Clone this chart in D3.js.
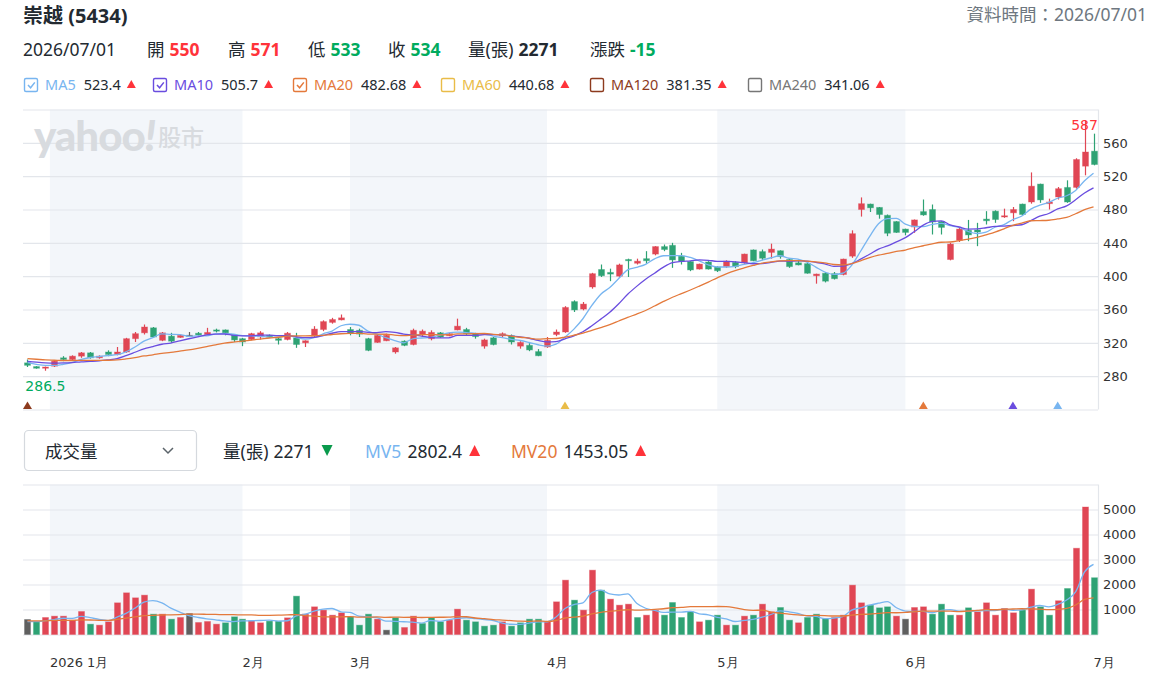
<!DOCTYPE html>
<html>
<head>
<meta charset="utf-8">
<script src="https://cdn.jsdelivr.net/npm/d3@7"></script>
<style>
  body { margin: 0; background: #fff; }
  svg { display: block; font-family: "Noto Sans", "Noto Sans CJK TC", sans-serif; }
</style>
</head>
<body>
<svg id="chart" width="1162" height="682"></svg>
<script>
// daily candles, 2025/12/29 .. 2026/07/01
const opens = [
  296, 291.5, 289.5, 292, 302, 300, 304, 308, 302, 309,
  306, 309, 325, 332, 338, 323, 328, 326.5, 329, 331.5,
  330, 335.5, 335.5, 329.5, 325, 324, 327, 329, 325, 324,
  326, 320, 328, 336, 344.5, 347.5, 336, 335, 325, 320.5,
  322.5, 309, 322, 318, 330.5, 325, 332, 328.5, 335.5, 336,
  331, 316, 326, 328.5, 328.5, 316, 317, 309.5, 315, 330,
  333, 369.5, 360.5, 387, 408, 404.5, 400, 420, 415.5, 421,
  426.5, 435.5, 437, 424, 417.5, 408.5, 417, 411, 411.5, 416.5,
  416, 431.5, 429.5, 428.5, 430.5, 420, 416, 415, 400.5, 403.5,
  403, 402, 424, 480, 486.5, 482.5, 473, 465.5, 456.5, 459,
  477.5, 480, 465.5, 420, 443, 455, 455.5, 468.5, 478, 471,
  476, 486.5, 489, 510.5, 487, 495, 506.5, 506.5, 532, 550
];
const highs = [
  300, 292, 291.5, 299, 304, 305, 309, 309, 305, 311,
  315, 326, 333, 342, 339, 333, 332, 330, 333, 333,
  338, 337, 336, 330, 326, 332, 334, 330, 326, 333,
  332, 323, 340, 347, 350, 354, 339, 337, 326, 330,
  331, 315, 323, 337, 336, 335, 333, 332, 349, 338,
  332, 325, 327, 332.5, 330, 322, 320, 312.5, 327, 336,
  364, 371, 369, 404, 414, 409, 415, 421, 421, 430,
  436, 438, 440, 428, 418, 415, 418, 412, 419, 418,
  427, 432, 432, 439, 431, 421, 420, 416, 403, 405,
  405, 421, 455, 494.5, 487, 483, 474, 466, 457, 468,
  492, 486, 466, 440, 458, 467.5, 464, 478, 479, 481,
  483, 487, 524.5, 511, 493, 507, 515, 541.5, 587, 571
];
const lows = [
  291, 289, 286.5, 291, 298, 299, 302, 301, 301, 304,
  305, 308, 321, 330, 326, 322, 320, 326, 328, 328.5,
  329.5, 332.5, 329, 321, 316, 323, 324, 326, 318, 323,
  314, 315, 327, 334, 343, 347, 329, 327, 310, 320,
  322, 307, 316, 317, 327, 323, 326, 328, 335, 329,
  325, 313, 317, 327, 318, 313, 310, 304, 314, 328,
  332, 357, 359, 385, 399, 394, 398, 399, 414, 415,
  425, 430, 410, 414, 406, 408, 408, 405, 410, 409.5,
  415, 418, 419, 421, 421, 410, 413, 403, 391, 392.5,
  396, 401, 422, 471.5, 477, 469, 448, 452, 449, 452,
  472.5, 450, 450, 419, 441, 442, 436, 462, 464, 470,
  466, 473, 487, 488, 480, 492, 488, 505, 521, 533
];
const closes = [
  293, 289.5, 291, 298, 300, 304, 308, 302, 304, 306,
  309, 325, 331, 339, 327, 332, 322, 329, 329, 329.5,
  332.5, 334, 332, 323.5, 321, 331, 332, 327, 323, 331.5,
  318, 322.5, 336.5, 345.5, 348, 350, 331.5, 330.5, 311, 329,
  329, 314, 317, 335, 334, 332.5, 327, 331, 340, 331,
  327.5, 323.5, 318, 331, 321, 320.5, 311.5, 304.5, 323, 333,
  362.5, 359.5, 366.5, 403, 400.5, 402.5, 413.5, 418.5, 418, 418.5,
  435.5, 432, 419.5, 418, 407.5, 414.5, 408.5, 406.5, 418, 411.5,
  426.5, 418.5, 421.5, 432.5, 423.5, 411.5, 413.5, 403.5, 402.5, 394,
  397, 420.5, 451, 487, 482, 474, 451.5, 452.5, 452.5, 467.5,
  473.5, 465, 458.5, 438.5, 456.5, 449.5, 453, 466.5, 468, 472.5,
  480, 474, 508, 491.5, 489, 505, 489, 540, 549, 534
];
const volumes = [
  600, 507, 680, 733, 733, 573, 920, 413, 373, 507,
  1267, 1667, 1467, 1573, 813, 813, 613, 680, 840, 480,
  520, 413, 467, 707, 613, 547, 467, 533, 533, 667,
  1533, 813, 1107, 973, 773, 867, 707, 373, 813, 613,
  173, 667, 280, 733, 440, 680, 507, 573, 1013, 573,
  507, 333, 373, 507, 333, 467, 613, 613, 507, 1307,
  2173, 1373, 973, 2573, 1773, 1413, 1173, 1213, 680, 773,
  973, 773, 1280, 680, 907, 507, 573, 773, 373, 373,
  733, 773, 1213, 907, 1080, 573, 467, 680, 813, 640,
  680, 773, 1973, 1267, 1173, 1067, 1107, 733, 613, 1080,
  1107, 813, 1213, 773, 773, 1067, 907, 1267, 773, 1040,
  867, 973, 1813, 1107, 773, 1350, 1840, 3450, 5100, 2271
];
// sessions before the visible window (estimated, only feed the moving averages)
const prevCloses = [306, 308, 305, 307, 304, 303, 305, 302, 304, 301, 300, 299, 301, 298, 299, 300, 297, 298, 293];
const prevVolumes = [520, 610, 480, 700, 560, 450, 530, 640, 580, 500, 620, 540, 470, 590, 560, 510, 470, 520, 460];

const months = ["2026 1月", "2月", "3月", "4月", "5月", "6月", "7月"];
const monthStartIdx = [3, 24, 36, 58, 77, 98, 119];

const priceTicks = [280, 320, 360, 400, 440, 480, 520, 560];
const volTicks = [1000, 2000, 3000, 4000, 5000];

const maNames = ["MA5", "MA10", "MA20", "MA60", "MA120", "MA240"];
const maValues = ["523.4", "505.7", "482.68", "440.68", "381.35", "341.06"];
const maShown = [true, true, true, false, false, false];
const maPeriods = [5, 10, 20];
const mvNames = ["MV5", "MV20"];
const mvValues = ["2802.4", "1453.05"];
const mvPeriods = [5, 20];
// small signal triangles along the bottom of the price panel
const signalIdx = [0, 60, 100, 110, 115];
const signalMa = ["MA120", "MA60", "MA20", "MA10", "MA5"];

const maColors = { MA5: "#78b5f0", MA10: "#6a4ddf", MA20: "#e4793b", MA60: "#e9bc48", MA120: "#8d3b1e", MA240: "#767676" };

const plotLeft = 23, plotRight = 1098;
const priceTop = 109.5, priceBottom = 409.5;
const volTop = 484.5, volBottom = 634.5;
const RED = "#ff333a", GREEN = "#00ab5e", DARK = "#232a31";
const UP = "#e04654", DOWN = "#2ea274", FLAT = "#5f5f5f";
const GRID = "#e3e6eb", SHADE = "#f3f6fa";

const n = closes.length;
const svg = d3.select("#chart");

const xBand = d3.scaleBand().domain(d3.range(n)).range([plotLeft, plotRight]);
const cx = i => xBand(i) + xBand.bandwidth() / 2;
const yPrice = d3.scaleLinear().domain([240, 600]).range([priceBottom, priceTop]);
const yVol = d3.scaleLinear().domain([0, 6000]).range([volBottom, volTop]);

function movingAvg(prev, vals, k) {
  const all = prev.concat(vals);
  return vals.map((v, i) => d3.mean(all.slice(prev.length + i - k + 1, prev.length + i + 1)));
}

// ---------- header ----------
svg.append("text").attr("x", 23).attr("y", 23)
  .attr("font-size", 20).attr("font-weight", 700).attr("fill", DARK).text("崇越 (5434)");
svg.append("text").attr("x", 1147).attr("y", 21).attr("text-anchor", "end")
  .attr("font-size", 17.5).attr("fill", "#6e7780").text("資料時間：2026/07/01");

function flow(g, x, y, parts) {
  let cur = x;
  parts.forEach(p => {
    cur += p.gap || 0;
    if (p.tri) {
      const w = p.w || 9, h = p.h || 8, b = y - 2;
      const d = p.tri === "up"
        ? `M${cur},${b} L${cur + w / 2},${b - h} L${cur + w},${b} Z`
        : `M${cur},${b - h} L${cur + w / 2},${b} L${cur + w},${b - h} Z`;
      g.append("path").attr("d", d).attr("fill", p.fill);
      cur += w;
    } else {
      const t = g.append("text").attr("x", cur).attr("y", y)
        .attr("font-size", p.size).attr("font-weight", p.weight || 400)
        .attr("fill", p.fill).text(p.text);
      cur += t.node().getComputedTextLength();
    }
  });
  return cur;
}

const last = n - 1, refClose = closes[n - 2];
const colorVs = v => v > refClose ? RED : (v < refClose ? GREEN : DARK);
const fmt = v => (Math.round(v * 100) / 100).toString();
const row2 = svg.append("g");
const hdrLabels = ["開", "高", "低", "收", "量(張)", "漲跌"];
const hdrX = [147, 228, 308, 388, 468, 590];
const change = closes[last] - refClose;
const hdrVals = [opens[last], highs[last], lows[last], closes[last], volumes[last], change];
flow(row2, 23, 56, [{ text: "2026/07/01", size: 17.5, fill: DARK }]);
hdrLabels.forEach((lab, k) => {
  const v = hdrVals[k];
  const fill = k === 4 ? DARK : (k === 5 ? (v > 0 ? RED : v < 0 ? GREEN : DARK) : colorVs(v));
  flow(row2, hdrX[k], 56, [
    { text: lab, size: 17.5, fill: DARK },
    { text: fmt(v), size: 17.5, weight: 700, fill: fill, gap: 5 }
  ]);
});

// MA legend
const legend = svg.append("g");
const legendX = [24, 153, 293, 441, 590, 748];
maNames.forEach((name, k) => {
  const c = maColors[name], x0 = legendX[k];
  legend.append("rect").attr("x", x0 + 0.5).attr("y", 78.5).attr("width", 13).attr("height", 13)
    .attr("rx", 1.5).attr("fill", "#fff").attr("stroke", c).attr("stroke-width", 1.4);
  if (maShown[k]) {
    legend.append("path").attr("d", `M${x0 + 4},${85} l2.6,2.8 l4.2,-5.4`)
      .attr("fill", "none").attr("stroke", c).attr("stroke-width", 1.5);
  }
  flow(legend, x0 + 21, 90, [
    { text: name, size: 14.5, fill: c },
    { text: maValues[k], size: 14.5, fill: DARK, gap: 8 },
    { tri: "up", fill: RED, gap: 6, w: 9, h: 8 }
  ]);
});

// ---------- panels ----------
function panel(yScale, top, bottom, gridVals, tickVals) {
  const g = svg.append("g");
  // alternating month shading
  monthStartIdx.forEach((s, k) => {
    if (k % 2 !== 0 || k === monthStartIdx.length - 1) return;
    const x1 = k === 0 ? xBand(s) : cx(s), x2 = cx(monthStartIdx[k + 1]);
    g.append("rect").attr("x", x1).attr("y", top).attr("width", x2 - x1)
      .attr("height", bottom - top).attr("fill", SHADE);
  });
  g.append("g").attr("transform", `translate(${plotLeft},0)`)
    .call(d3.axisLeft(yScale).tickValues(gridVals).tickSize(-(plotRight - plotLeft)).tickFormat(""))
    .call(a => a.select(".domain").remove())
    .call(a => a.selectAll("line").attr("stroke", GRID).attr("stroke-width", 1.2));
  g.append("line").attr("x1", plotRight + 0.5).attr("x2", plotRight + 0.5)
    .attr("y1", top).attr("y2", bottom).attr("stroke", GRID).attr("stroke-width", 1.2);
  g.append("g").attr("transform", `translate(${plotRight},0)`)
    .call(d3.axisRight(yScale).tickValues(tickVals).tickSize(0).tickPadding(5).tickFormat(d3.format("d")))
    .call(a => a.select(".domain").remove())
    .call(a => a.selectAll("text").attr("font-family", "DejaVu Sans").attr("font-size", 13).attr("fill", "#333"));
  return g;
}

panel(yPrice, priceTop, priceBottom, d3.range(240, 601, 40), priceTicks);

// watermark
const wm = svg.append("g").attr("fill", "#d8dbdf");
const wmLogo = wm.append("text").attr("x", 34).attr("y", 151)
  .attr("font-family", "Lato, 'DejaVu Sans'").attr("font-size", 42).attr("font-weight", 900)
  .attr("letter-spacing", -1);
wmLogo.append("tspan").text("yahoo");
wmLogo.append("tspan").attr("font-style", "italic").text("!");
const logoEnd = 34 + wmLogo.node().getComputedTextLength();
wm.append("text").attr("x", Math.max(157, logoEnd + 3)).attr("y", 146)
  .attr("font-size", 23).attr("font-weight", 500).text("股市");

// candles
const candleColor = i => closes[i] > opens[i] ? UP : (closes[i] < opens[i] ? DOWN : FLAT);
const bodyW = Math.round(xBand.bandwidth() * 0.68);
const cg = svg.append("g");
cg.selectAll("line.wick").data(d3.range(n)).join("line")
  .attr("class", "wick")
  .attr("x1", i => Math.round(cx(i)) + 0.5).attr("x2", i => Math.round(cx(i)) + 0.5)
  .attr("y1", i => yPrice(highs[i])).attr("y2", i => yPrice(lows[i]))
  .attr("stroke", candleColor).attr("stroke-width", 1.2);
cg.selectAll("rect.body").data(d3.range(n)).join("rect")
  .attr("class", "body")
  .attr("x", i => Math.round(cx(i)) + 0.5 - bodyW / 2)
  .attr("y", i => yPrice(Math.max(opens[i], closes[i])))
  .attr("width", bodyW)
  .attr("height", i => Math.max(1.2, Math.abs(yPrice(opens[i]) - yPrice(closes[i]))))
  .attr("fill", candleColor).attr("stroke", candleColor).attr("stroke-opacity", 0.35).attr("stroke-width", 1);

// moving averages
const lineGen = d3.line().x((d, i) => cx(i)).y(d => yPrice(d)).curve(d3.curveMonotoneX);
maPeriods.forEach((p, k) => {
  svg.append("path").datum(movingAvg(prevCloses, closes, p))
    .attr("d", lineGen).attr("fill", "none")
    .attr("stroke", maColors[maNames[k]]).attr("stroke-width", 1.3);
});

// extreme labels
const iMax = d3.maxIndex(highs), iMin = d3.minIndex(lows);
svg.append("text").attr("x", cx(iMax)).attr("y", Math.max(yPrice(highs[iMax]) - 4, priceTop + 20))
  .attr("text-anchor", "middle").attr("font-family", "DejaVu Sans").attr("font-size", 14)
  .attr("fill", RED).text(fmt(highs[iMax]));
svg.append("text").attr("x", cx(iMin)).attr("y", yPrice(lows[iMin]) + 20)
  .attr("text-anchor", "middle").attr("font-family", "DejaVu Sans").attr("font-size", 14)
  .attr("fill", GREEN).text(fmt(lows[iMin]));

// signal markers
signalIdx.forEach((s, k) => {
  const x0 = cx(s);
  svg.append("path").attr("d", `M${x0 - 4.5},${priceBottom - 0.5} L${x0},${priceBottom - 8} L${x0 + 4.5},${priceBottom - 0.5} Z`)
    .attr("fill", maColors[signalMa[k]]);
});

// ---------- volume header ----------
svg.append("rect").attr("x", 24.5).attr("y", 430.5).attr("width", 172).attr("height", 40)
  .attr("rx", 4).attr("fill", "#fff").attr("stroke", "#d5d9de").attr("stroke-width", 1.2);
svg.append("text").attr("x", 45).attr("y", 458).attr("font-size", 17.5).attr("fill", DARK).text("成交量");
svg.append("path").attr("d", "M163,448 L168,453 L173,448").attr("fill", "none")
  .attr("stroke", "#5b636a").attr("stroke-width", 1.5);

const vh = svg.append("g");
const volDown = volumes[last] < volumes[n - 2];
flow(vh, 223, 458, [
  { text: "量(張)", size: 17.5, fill: DARK },
  { text: String(volumes[last]), size: 17.5, fill: DARK, gap: 5 },
  { tri: volDown ? "down" : "up", fill: volDown ? "#0a9a4c" : RED, gap: 8, w: 11, h: 11 }
]);
const mvX = [365, 511];
const mvColors = [maColors.MA5, maColors.MA20];
mvNames.forEach((name, k) => {
  flow(vh, mvX[k], 458, [
    { text: name, size: 17.5, fill: mvColors[k] },
    { text: mvValues[k], size: 17.5, fill: DARK, gap: 6 },
    { tri: "up", fill: RED, gap: 7, w: 11, h: 11 }
  ]);
});

// ---------- volume panel ----------
panel(yVol, volTop, volBottom, d3.range(0, 6001, 1000), volTicks);

const volColor = i => {
  const prev = i === 0 ? prevCloses[prevCloses.length - 1] : closes[i - 1];
  return closes[i] > prev ? UP : (closes[i] < prev ? DOWN : FLAT);
};
const barW = Math.round(xBand.bandwidth() * 0.62);
svg.append("g").selectAll("rect").data(d3.range(n)).join("rect")
  .attr("x", i => Math.round(cx(i)) + 0.5 - barW / 2)
  .attr("y", i => yVol(volumes[i]))
  .attr("width", barW)
  .attr("height", i => volBottom - yVol(volumes[i]))
  .attr("fill", volColor).attr("stroke", volColor).attr("stroke-opacity", 0.35).attr("stroke-width", 1);

const volLine = d3.line().x((d, i) => cx(i)).y(d => yVol(d)).curve(d3.curveMonotoneX);
mvPeriods.forEach((p, k) => {
  svg.append("path").datum(movingAvg(prevVolumes, volumes, p))
    .attr("d", volLine).attr("fill", "none")
    .attr("stroke", mvColors[k]).attr("stroke-width", 1.3);
});

// month labels
svg.append("g").selectAll("text").data(monthStartIdx).join("text")
  .attr("x", (s, k) => k === 0 ? xBand(s) : cx(s))
  .attr("y", 667)
  .attr("font-family", "DejaVu Sans").attr("font-size", 13).attr("fill", "#333")
  .text((s, k) => months[k]);
</script>
</body>
</html>
